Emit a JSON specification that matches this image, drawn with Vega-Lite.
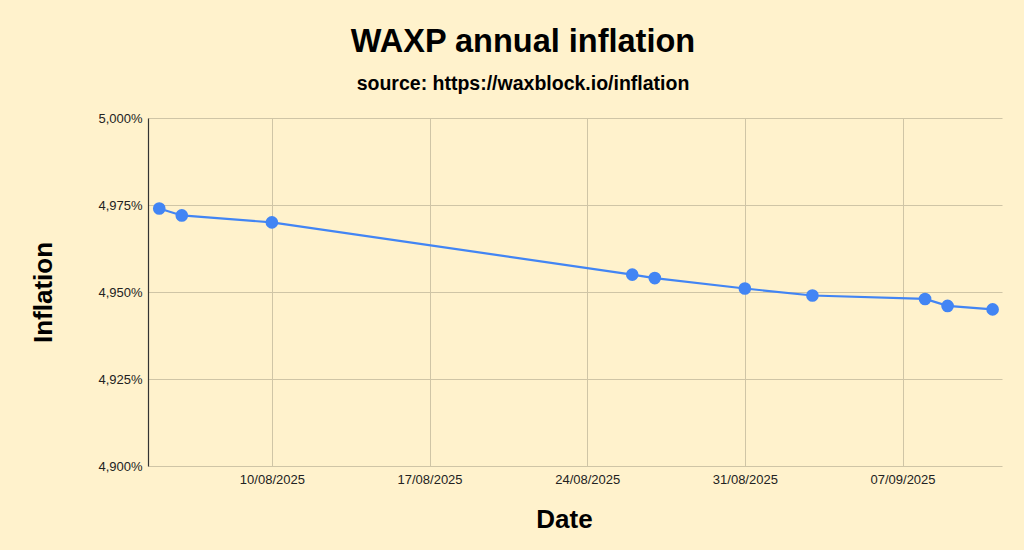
{
  "$schema": "https://vega.github.io/schema/vega-lite/v6.json",
  "width": 854,
  "height": 348,
  "autosize": {"type": "none"},
  "padding": {"left": 148, "top": 118, "right": 22, "bottom": 84},
  "background": "#FFF2CC",
  "title": {
    "text": "WAXP annual inflation",
    "subtitle": "source: https://waxblock.io/inflation",
    "anchor": "middle",
    "dx": -52,
    "offset": 19,
    "font": "Liberation Sans",
    "fontSize": 32.5,
    "fontWeight": "bold",
    "color": "#000000",
    "subtitleFont": "Liberation Sans",
    "subtitleFontSize": 19.5,
    "subtitleFontWeight": "bold",
    "subtitleColor": "#000000",
    "subtitlePadding": 16
  },
  "data": {
    "values": [
      {"date": "2025-08-05", "inflation": 4.974},
      {"date": "2025-08-06", "inflation": 4.972},
      {"date": "2025-08-10", "inflation": 4.970},
      {"date": "2025-08-26", "inflation": 4.955},
      {"date": "2025-08-27", "inflation": 4.954},
      {"date": "2025-08-31", "inflation": 4.951},
      {"date": "2025-09-03", "inflation": 4.949},
      {"date": "2025-09-08", "inflation": 4.948},
      {"date": "2025-09-09", "inflation": 4.946},
      {"date": "2025-09-11", "inflation": 4.945}
    ]
  },
  "encoding": {
    "x": {
      "field": "date",
      "type": "temporal",
      "title": "Date",
      "scale": {"type": "utc", "domain": ["2025-08-04T12:00:00Z", "2025-09-11T10:00:00Z"]},
      "axis": {
        "values": [
          {"year": 2025, "month": 8, "date": 10, "utc": true},
          {"year": 2025, "month": 8, "date": 17, "utc": true},
          {"year": 2025, "month": 8, "date": 24, "utc": true},
          {"year": 2025, "month": 8, "date": 31, "utc": true},
          {"year": 2025, "month": 9, "date": 7, "utc": true}
        ],
        "format": "%d/%m/%Y",
        "domain": false,
        "ticks": false,
        "labelPadding": 7,
        "titlePadding": 20,
        "titleX": 416
      }
    },
    "y": {
      "field": "inflation",
      "type": "quantitative",
      "title": "Inflation",
      "scale": {"domain": [4.9, 5.0], "zero": false, "nice": false},
      "axis": {
        "values": [4.9, 4.925, 4.95, 4.975, 5.0],
        "labelExpr": "replace(format(datum.value, '.3f'), '.', ',') + '%'",
        "domain": true,
        "domainColor": "#333333",
        "domainWidth": 1.2,
        "ticks": false,
        "labelPadding": 6,
        "titlePadding": 41
      }
    }
  },
  "layer": [
    {"mark": {"type": "line", "color": "#4285F4", "strokeWidth": 2.2}},
    {"mark": {"type": "point", "filled": true, "opacity": 1, "color": "#4285F4", "size": 160}}
  ],
  "config": {
    "view": {"stroke": null},
    "axis": {
      "gridColor": "#cfc5a6",
      "gridWidth": 1,
      "gridOpacity": 1,
      "labelFont": "Liberation Sans",
      "labelFontSize": 13,
      "labelColor": "#222222",
      "titleFont": "Liberation Sans",
      "titleFontSize": 26,
      "titleFontWeight": "bold",
      "titleColor": "#000000"
    }
  }
}
